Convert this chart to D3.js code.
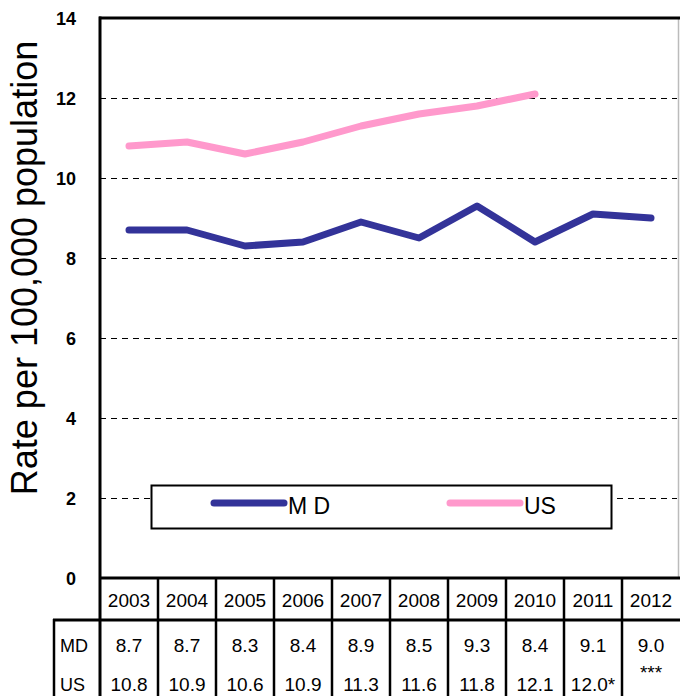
<!DOCTYPE html>
<html><head><meta charset="utf-8">
<script src="https://cdn.jsdelivr.net/npm/d3@7"></script>
<style>body{margin:0;background:#fff}svg{display:block;font-family:"Liberation Sans",Arial,sans-serif}</style>
</head><body>
<svg id="c" width="680" height="696"></svg>
<script>
const years = ["2003","2004","2005","2006","2007","2008","2009","2010","2011","2012"];
const mdValues = [8.7,8.7,8.3,8.4,8.9,8.5,9.3,8.4,9.1,9.0];
const usValues = [10.8,10.9,10.6,10.9,11.3,11.6,11.8,12.1,null,null];
const mdLabels = ["8.7","8.7","8.3","8.4","8.9","8.5","9.3","8.4","9.1","9.0"];
const usLabels = ["10.8","10.9","10.6","10.9","11.3","11.6","11.8","12.1","12.0*","***"];
const yTicks = [0,2,4,6,8,10,12,14];

const svg = d3.select("#c");
const L=100, R=680, T=18, B=578;
const x = d3.scaleBand().domain(years).range([L,R]).padding(0);
const y = d3.scaleLinear().domain([0,14]).range([B,T]);

// right border (light gray)
svg.append("line").attr("x1",678.5).attr("x2",678.5).attr("y1",T).attr("y2",B).attr("stroke","#bbb").attr("stroke-width",1.5);

// gridlines
svg.append("g").selectAll("line").data(yTicks.filter(d=>d>0&&d<14)).join("line")
  .attr("x1",L).attr("x2",677).attr("y1",d=>Math.round(y(d))+0.5).attr("y2",d=>Math.round(y(d))+0.5)
  .attr("stroke","#000").attr("stroke-width",1).attr("stroke-dasharray","6,5");

// y axis tick labels
svg.append("g").selectAll("text").data(yTicks).join("text")
  .attr("x",76).attr("y",d=>y(d)+6.5).attr("text-anchor","end")
  .attr("font-size",18).attr("font-weight","bold").text(d=>d);

// y title
svg.append("text").attr("transform","translate(37,268) rotate(-90)").attr("text-anchor","middle")
  .attr("font-size",36).text("Rate per 100,000 population");

// lines
const line = d3.line().defined(d=>d.v!=null).x(d=>x(d.y)+x.bandwidth()/2).y(d=>y(d.v));
svg.append("path").datum(years.map((yy,i)=>({y:yy,v:usValues[i]}))).attr("d",line)
  .attr("fill","none").attr("stroke","#FF99CC").attr("stroke-width",7).attr("stroke-linejoin","round").attr("stroke-linecap","round");
svg.append("path").datum(years.map((yy,i)=>({y:yy,v:mdValues[i]}))).attr("d",line)
  .attr("fill","none").attr("stroke","#333399").attr("stroke-width",7).attr("stroke-linejoin","round").attr("stroke-linecap","round");

// legend
svg.append("rect").attr("x",151.5).attr("y",485.5).attr("width",460).attr("height",43).attr("fill","#fff").attr("stroke","#000").attr("stroke-width",2);
svg.append("line").attr("x1",214).attr("x2",284).attr("y1",503).attr("y2",503).attr("stroke","#333399").attr("stroke-width",7).attr("stroke-linecap","round");
svg.append("text").attr("x",288).attr("y",514).attr("font-size",23).text("M D");
svg.append("line").attr("x1",450).attr("x2",520).attr("y1",503).attr("y2",503).attr("stroke","#FF99CC").attr("stroke-width",7).attr("stroke-linecap","round");
svg.append("text").attr("x",524).attr("y",514).attr("font-size",23).text("US");

// axes frame
svg.append("line").attr("x1",L-1).attr("x2",680).attr("y1",T).attr("y2",T).attr("stroke","#000").attr("stroke-width",3);
svg.append("line").attr("x1",L).attr("x2",L).attr("y1",T-1.5).attr("y2",696).attr("stroke","#000").attr("stroke-width",3);
svg.append("line").attr("x1",L).attr("x2",680).attr("y1",B).attr("y2",B).attr("stroke","#000").attr("stroke-width",3);

// table
const tb = svg.append("g");
tb.append("line").attr("x1",53).attr("x2",680).attr("y1",620).attr("y2",620).attr("stroke","#000").attr("stroke-width",3);
tb.append("line").attr("x1",54).attr("x2",54).attr("y1",619).attr("y2",696).attr("stroke","#000").attr("stroke-width",2.5);
tb.selectAll("line.v").data(years.slice(1)).join("line").attr("class","v")
  .attr("x1",d=>x(d)).attr("x2",d=>x(d)).attr("y1",B).attr("y2",696).attr("stroke","#000").attr("stroke-width",2.5);
const cx = d=>x(d)+x.bandwidth()/2;
const fs = 19;
tb.selectAll("text.yr").data(years).join("text").attr("class","yr")
  .attr("x",cx).attr("y",607).attr("text-anchor","middle").attr("font-size",fs).text(d=>d);
tb.selectAll("text.md").data(years).join("text").attr("class","md")
  .attr("x",cx).attr("y",652).attr("text-anchor","middle").attr("font-size",fs).text((d,i)=>mdLabels[i]);
tb.selectAll("text.us").data(years).join("text").attr("class","us")
  .attr("x",cx).attr("y",(d,i)=>usLabels[i]==="***"?679:691).attr("text-anchor","middle").attr("font-size",fs).text((d,i)=>usLabels[i]);
tb.append("text").attr("x",60).attr("y",652).attr("font-size",18).text("MD");
tb.append("text").attr("x",60).attr("y",691).attr("font-size",18).text("US");
</script>
</body></html>
